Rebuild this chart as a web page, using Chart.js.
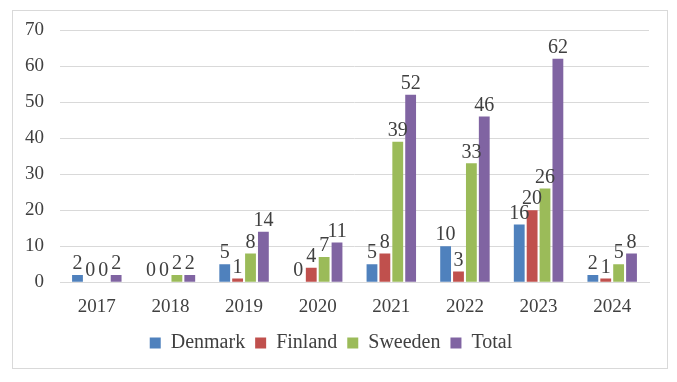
<!DOCTYPE html>
<html>
<head>
<meta charset="utf-8">
<script src="https://cdn.jsdelivr.net/npm/chart.js@4.4.0/dist/chart.umd.min.js"></script>
<style>
    html, body { margin: 0; padding: 0; background: #fff; }
    #frame {
        position: absolute; left: 12px; top: 10px;
        width: 654px; height: 357px;
        border: 1px solid #d9d9d9;
    }
</style>
</head>
<body>
<div id="frame"><canvas id="chart" width="654" height="357"></canvas></div>
<script>
const years = ['2017', '2018', '2019', '2020', '2021', '2022', '2023', '2024'];
const denmark = [2, 0, 5, 0, 5, 10, 16, 2];
const finland = [0, 0, 1, 4, 8, 3, 20, 1];
const sweeden = [0, 2, 8, 7, 39, 33, 26, 5];
const total = [2, 2, 14, 11, 52, 46, 62, 8];
const yTicks = [0, 10, 20, 30, 40, 50, 60, 70];

const textColor = '#404040';
const serif = "'Liberation Serif', 'Times New Roman', serif";

// draws the value above each bar
const valueLabels = {
    id: 'valueLabels',
    afterDatasetsDraw(chart) {
        const ctx = chart.ctx;
        ctx.save();
        ctx.font = '20px ' + serif;
        ctx.fillStyle = textColor;
        ctx.textAlign = 'center';
        ctx.textBaseline = 'bottom';
        chart.data.datasets.forEach((ds, i) => {
            chart.getDatasetMeta(i).data.forEach((bar, j) => {
                ctx.fillText(ds.data[j], bar.x, bar.y - 1);
            });
        });
        ctx.restore();
    }
};

new Chart(document.getElementById('chart'), {
    type: 'bar',
    data: {
        labels: years,
        datasets: [
            { label: 'Denmark', data: denmark, backgroundColor: '#4F81BD' },
            { label: 'Finland', data: finland, backgroundColor: '#C0504D' },
            { label: 'Sweeden', data: sweeden, backgroundColor: '#9BBB59' },
            { label: 'Total', data: total, backgroundColor: '#8064A2' }
        ]
    },
    options: {
        responsive: false,
        animation: false,
        layout: { padding: { top: 19, right: 18, left: 0, bottom: 5 } },
        datasets: {
            bar: { categoryPercentage: 0.7, barPercentage: 0.84 }
        },
        scales: {
            x: {
                grid: { display: false },
                border: { color: '#d9d9d9' },
                ticks: { color: textColor, font: { family: serif, size: 19 }, padding: 5 }
            },
            y: {
                min: 0,
                max: 70,
                afterBuildTicks: axis => { axis.ticks = yTicks.map(v => ({ value: v })); },
                afterFit: axis => {
                    axis.width = 47;
                    axis.paddingTop = 0;
                    axis.paddingBottom = 0;
                },
                grid: { color: '#d9d9d9', drawTicks: false },
                border: { display: false },
                ticks: { color: textColor, font: { family: serif, size: 19 }, padding: 16 }
            }
        },
        plugins: {
            legend: {
                position: 'bottom',
                labels: {
                    color: textColor,
                    font: { family: serif, size: 20 },
                    boxWidth: 11,
                    boxHeight: 11,
                    padding: 10
                }
            },
            tooltip: { enabled: false }
        }
    },
    plugins: [valueLabels]
});
</script>
</body>
</html>
